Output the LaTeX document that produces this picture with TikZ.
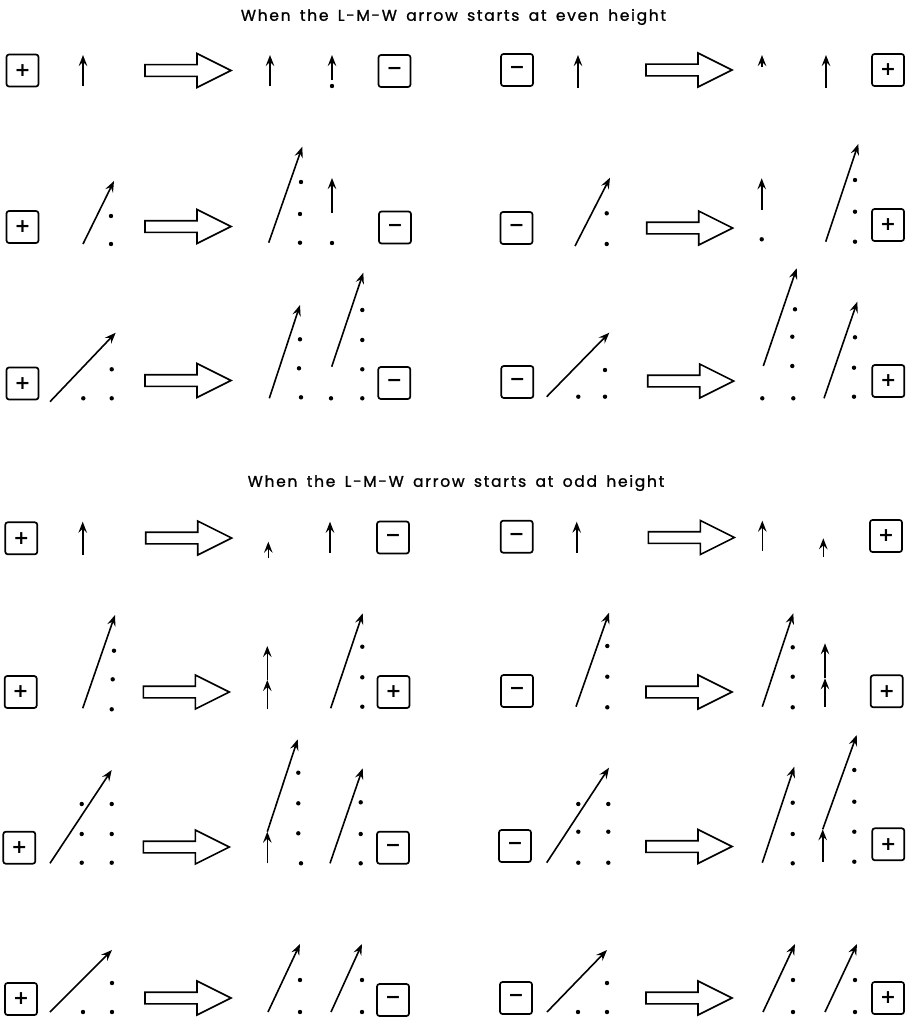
\documentclass[tikz,border=0pt]{standalone}
\usepackage{fontspec}
\usetikzlibrary{arrows.meta}
\newfontfamily\titlefont{Poppins}[LetterSpace=11, WordSpace=1.6, FakeBold=1.2]
\newfontfamily\signfont{DejaVu Sans}
\tikzset{
  pbox/.style={draw, line width=1.7pt, rounded corners=2.5pt, minimum size=32pt, inner sep=0pt, font=\signfont\bfseries\fontsize{19}{19}\selectfont},
  arr/.style={line width=1.6pt, -{Stealth[length=11pt,width=8.5pt,inset=4pt]}},
  bigline/.style={line width=1.6pt, line join=miter},
  ttl/.style={font=\titlefont\fontsize{15.5}{16}\selectfont, inner sep=0pt},
  bigarr/.pic={\draw[bigline] (0,-5.8) -- (52,-5.8) -- (52,-17) -- (86,0) -- (52,17) -- (52,5.8) -- (0,5.8) -- cycle;}
}
\newcommand{\dt}[2]{\fill (#1,#2) circle (2.2pt);}
\begin{document}
\begin{tikzpicture}[x=1pt,y=-1pt]
\useasboundingbox (0,0) rectangle (907,1025);
% titles
\node[ttl] (t1) at (453.5,17) {When the L-M-W arrow starts at even height};
\node[ttl] (t2) at (456,483) {When the L-M-W arrow starts at odd height};
% ---------- Row 1 ----------
\node[pbox] (r1a) at (22.5,70.5) {+};
\draw[arr] (83,86) -- (83,55);
\pic at (145,70.5) {bigarr};
\draw[arr] (270,86) -- (270,55);
\draw[arr] (332,80) -- (332,55); \dt{332}{86}
\node[pbox] (r1b) at (394.5,71) {−};
\node[pbox] (r1c) at (517,70) {−};
\draw[arr] (578,88) -- (578,55);
\pic at (646,70) {bigarr};
\draw[arr] (762,67) -- (762,55);
\draw[arr] (826,88) -- (826,55);
\node[pbox] (r1d) at (888,70) {+};
% ---------- Row 2 ----------
\node[pbox] (r2a) at (22.5,227) {+};
\draw[arr] (83,244) -- (114,181);
\dt{111}{216}\dt{111}{244}
\pic at (145,226.5) {bigarr};
\draw[arr] (268.7,242.7) -- (302.3,146.7);
\dt{301}{182}\dt{300}{214}\dt{300}{242.7}
\draw[arr] (332,213) -- (332,178); \dt{332}{243}
\node[pbox] (r2b) at (395,227.5) {−};
\node[pbox] (r2c) at (516.5,228) {−};
\draw[arr] (575,246) -- (610,177.7);
\dt{606.7}{213.3}\dt{606.7}{244}
\pic at (646.7,228) {bigarr};
\draw[arr] (761.7,210) -- (761.7,178.3); \dt{761.7}{239.3}
\draw[arr] (825.7,241.7) -- (858.3,144);
\dt{855}{180}\dt{855}{211.7}\dt{855}{241.7}
\node[pbox] (r2d) at (888,225) {+};
% ---------- Row 3 ----------
\node[pbox] (r3a) at (22.5,383.5) {+};
\draw[arr] (50,401.7) -- (115.7,332.7);
\dt{111.7}{369.3}\dt{83.3}{398.3}\dt{111.7}{398.3}
\pic at (145,380.5) {bigarr};
\draw[arr] (269.3,398.3) -- (300,305);
\dt{300}{339.3}\dt{299}{368.3}\dt{301}{397.3}
\draw[arr] (331.7,366.7) -- (363.3,272.7);
\dt{362.3}{310}\dt{362.3}{340}\dt{362.3}{369.3}\dt{331}{398.3}\dt{362.3}{398.3}
\node[pbox] (r3b) at (394.3,383) {−};
\node[pbox] (r3c) at (517.3,382) {−};
\draw[arr] (546.7,396.7) -- (609.3,332.7);
\dt{605}{370}\dt{578.3}{396.7}\dt{605}{396.7}
\pic at (647.7,381) {bigarr};
\draw[arr] (763.3,366) -- (796.7,268.3);
\dt{795}{309.3}\dt{792.3}{336.7}\dt{792.3}{366}\dt{762.3}{398.3}\dt{793.3}{398.3}
\draw[arr] (824,398.3) -- (857.3,301.7);
\dt{855}{337.3}\dt{854}{367.7}\dt{854}{396.7}
\node[pbox] (r3d) at (888.3,381) {+};
% ---------- Row 4 ----------
\node[pbox] (r4a) at (21.3,538.3) {+};
\draw[arr] (82.7,555) -- (82.7,521.7);
\pic at (145.7,538) {bigarr};
\draw[arr] (268.3,558.3) -- (268.3,541.7);
\draw[arr] (330,552.7) -- (330,521.7);
\node[pbox] (r4b) at (393,537.5) {−};
\node[pbox] (r4c) at (516.7,536.7) {−};
\draw[arr] (576.7,552.7) -- (576.7,521.7);
\pic at (648.3,537.5) {bigarr};
\draw[arr] (762.3,550.7) -- (762.3,520.7);
\draw[arr] (823.3,556.7) -- (823.3,538.3);
\node[pbox] (r4d) at (886,536) {+};
% ---------- Row 5 ----------
\node[pbox] (r5a) at (20.7,692) {+};
\draw[arr] (82.7,708.3) -- (115,615);
\dt{114}{650.7}\dt{112.7}{679.3}\dt{111.7}{709.3}
\pic at (143.3,692) {bigarr};
\draw[arr] (267.3,709.3) -- (267.3,680);
\draw[arr] (267.3,680) -- (267.3,646);
\draw[arr] (330.7,708.3) -- (362.7,613.3);
\dt{362.3}{646.7}\dt{362.3}{677.3}\dt{362.3}{706.7}
\node[pbox] (r5b) at (393.5,692) {+};
\node[pbox] (r5c) at (517,691) {−};
\draw[arr] (576,706.7) -- (609,612.7);
\dt{607.3}{646}\dt{607.3}{676.7}\dt{607.3}{707.3}
\pic at (646,692) {bigarr};
\draw[arr] (762.3,706.7) -- (793.3,613.3);
\dt{792.7}{647.3}\dt{792.7}{676.7}\dt{792.7}{707.3}
\draw[arr] (825,706.7) -- (825,678.3);
\draw[arr] (825,678.3) -- (825,643.3);
\node[pbox] (r5d) at (886.7,691.3) {+};
% ---------- Row 6 ----------
\node[pbox] (r6a) at (19.3,847.7) {+};
\draw[arr] (50,863.3) -- (111.7,770);
\dt{81.7}{804}\dt{111.7}{804}\dt{81.7}{834}\dt{111.7}{834}\dt{81.7}{862.7}\dt{111.7}{862.7}
\pic at (143.3,847) {bigarr};
\draw[arr] (267.3,863.3) -- (267.3,831.7);
\draw[arr] (267.3,831.7) -- (297.7,739.3);
\dt{298.3}{772.7}\dt{298.3}{803.3}\dt{298.3}{833.3}\dt{301}{863.3}
\draw[arr] (330,863.3) -- (362.7,768.3);
\dt{360.7}{802.3}\dt{360.7}{834}\dt{360.7}{863.3}
\node[pbox] (r6b) at (393,847.7) {−};
\node[pbox] (r6c) at (515,846) {−};
\draw[arr] (546.7,862.7) -- (609,767.7);
\dt{578.3}{804}\dt{608.3}{804}\dt{578.3}{831.7}\dt{608.3}{831.7}\dt{578.3}{862.7}\dt{608.3}{862.7}
\pic at (646,846.5) {bigarr};
\draw[arr] (762.3,862.7) -- (794.3,766.7);
\dt{792.7}{802.7}\dt{792.7}{834}\dt{792.7}{863.3}
\draw[arr] (822.7,861.7) -- (822.7,829.3);
\draw[arr] (822.7,829.3) -- (856.7,735);
\dt{854.3}{770}\dt{854.3}{801.7}\dt{854.3}{831.7}\dt{854.3}{861.7}
\node[pbox] (r6d) at (888.3,844.3) {+};
% ---------- Row 7 ----------
\node[pbox] (r7a) at (21,999) {+};
\draw[arr] (50,1012) -- (112,950);
\dt{112}{983}\dt{83}{1012}\dt{112}{1012}
\pic at (145,998) {bigarr};
\draw[arr] (268,1012) -- (300,944);
\dt{300}{980}\dt{300}{1012}
\draw[arr] (331,1012) -- (362,944);
\dt{362}{980}\dt{362}{1012}
\node[pbox] (r7b) at (393,1000) {−};
\node[pbox] (r7c) at (516,998) {−};
\draw[arr] (547,1012) -- (607,950);
\dt{578}{1012}\dt{607}{983}\dt{607}{1012}
\pic at (646,998) {bigarr};
\draw[arr] (763,1012) -- (795,944);
\dt{793}{980}\dt{793}{1012}
\draw[arr] (825,1012) -- (857,944);
\dt{855}{980}\dt{855}{1012}
\node[pbox] (r7d) at (888,998) {+};
\end{tikzpicture}
\end{document}
